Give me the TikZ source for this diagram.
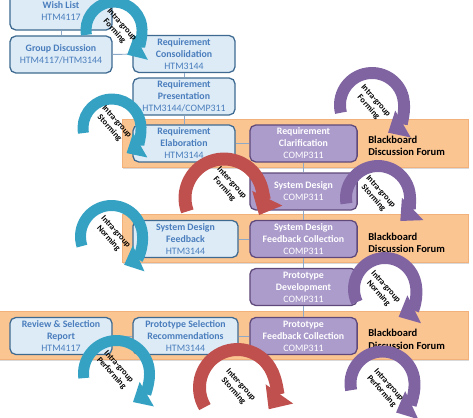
\documentclass[tikz,border=0pt]{standalone}
\usepackage{fontspec}
\setmainfont{Carlito}
\usepackage{xcolor}
\usepackage{tikz}
\usetikzlibrary{arrows.meta, shadows}

\definecolor{boxfill}{HTML}{DCEBF6}
\definecolor{boxline}{HTML}{3E6A91}
\definecolor{boxtext}{HTML}{4A7DBD}
\definecolor{unitfill}{HTML}{AC9CCC}
\definecolor{unitline}{HTML}{5F497A}
\definecolor{bandfill}{HTML}{FBC592}
\definecolor{bandline}{HTML}{F2B17A}
\definecolor{linkcol}{HTML}{8EA9C8}
\definecolor{intracol}{HTML}{35A2C4}
\definecolor{intercol}{HTML}{C0504D}
\definecolor{groupcol}{HTML}{8064A2}

\begin{document}
\begin{tikzpicture}[
    x=0.025cm, y=0.025cm,
    task/.style={rectangle, rounded corners=4pt, draw=boxline, fill=boxfill, line width=0.9pt, minimum width=2.55cm, minimum height=0.92cm, inner sep=1pt, align=center, text=boxtext, font=\fontsize{7}{8.5}\selectfont\bfseries},
    unit/.style={task, draw=unitline, fill=unitfill, text=white, minimum width=2.68cm},
    forum/.style={rectangle, draw=bandline, fill=bandfill, minimum height=1.2cm, drop shadow={shadow xshift=0.6pt, shadow yshift=-1.2pt, opacity=0.3}},
    forumtext/.style={anchor=west, align=left, inner sep=0pt, font=\fontsize{7.5}{9}\selectfont\bfseries},
    link/.style={draw=linkcol, line width=0.7pt},
    ringarrow/.style={line width=#1, -{Triangle[length=0pt 1.45, width=0pt 2.5]}},
    ringarrow/.default=8pt,
    ringlabel/.style={align=center, inner sep=0pt, rotate=-48, font=\fontsize{6}{7}\selectfont\bfseries}
]
\useasboundingbox (0,0) rectangle (473,-417);

% Bands
\node[forum, minimum width=8.65cm] (band1) at (295,-143.5) {};
\node[forum, minimum width=8.65cm] (band2) at (295,-238.5) {};
\node[forum, minimum width=11.75cm] (band3) at (233,-335) {};

\node[forumtext] (bb1) at (368,-146) {Blackboard\\Discussion Forum};
\node[forumtext] (bb2) at (368,-243) {Blackboard\\Discussion Forum};
\node[forumtext] (bb3) at (368,-339) {Blackboard\\Discussion Forum};

% Tasks
\node[task] (wish) at (61,-11.5) {Wish List\\\mdseries HTM4117};
\node[task] (group) at (61,-54.5) {Group Discussion\\\mdseries HTM4117/HTM3144};
\node[task] (consol) at (184,-54) {Requirement\\Consolidation\\\mdseries HTM3144};
\node[task] (present) at (184,-96.5) {Requirement\\Presentation\\\mdseries HTM3144/COMP311};
\node[task] (elab) at (184,-143.5) {Requirement\\Elaboration\\\mdseries HTM3144};
\node[unit] (clarif) at (303.5,-143.5) {Requirement\\Clarification\\\mdseries COMP311};
\node[unit] (sysdes) at (303.5,-191.5) {System Design\\\mdseries COMP311};
\node[task, minimum width=2.63cm] (sdfb) at (185.5,-239) {System Design\\Feedback\\\mdseries HTM3144};
\node[unit] (sdfbc) at (303.5,-239) {System Design\\Feedback Collection\\\mdseries COMP311};
\node[unit] (protodev) at (303.5,-287) {Prototype\\Development\\\mdseries COMP311};
\node[task] (review) at (61,-336) {Review \& Selection\\Report\\\mdseries HTM4117};
\node[task, minimum width=2.63cm] (protosel) at (185.5,-336) {Prototype Selection\\Recommendations\\\mdseries HTM3144};
\node[unit] (protofbc) at (303.5,-336) {Prototype\\Feedback Collection\\\mdseries COMP311};

% Links
\draw[link] (wish) -- (group);
\draw[link] (group) -- (consol);
\draw[link] (consol) -- (present);
\draw[link] (present) -- (elab);
\draw[link] (elab) -- (clarif);
\draw[link] (clarif) -- (sysdes);
\draw[link] (sysdes) -- (sdfbc);
\draw[link] (sdfb) -- (sdfbc);
\draw[link] (sdfbc) -- (protodev);
\draw[link] (protodev) -- (protofbc);
\draw[link] (review) -- (protosel);
\draw[link] (protosel) -- (protofbc);

% Intra-group cycles (HTM)
\draw[ringarrow=7.8pt, intracol] (114,-30) ++(190:28) arc[start angle=190, end angle=-62, radius=28];
\draw[ringarrow=7.8pt, intracol] (112,-128) ++(190:29) arc[start angle=190, end angle=-60, radius=29];
\draw[ringarrow=7.8pt, intracol] (111.5,-236.5) ++(198:31) arc[start angle=198, end angle=-66, radius=31];
\draw[ringarrow=7.8pt, intracol] (116.5,-373.5) ++(188:33) arc[start angle=188, end angle=-60, radius=33];

% Inter-group cycles
\draw[ringarrow=9.2pt, intercol] (224,-198) ++(200:39) arc[start angle=200, end angle=-26, radius=39];
\draw[ringarrow=9.2pt, intercol] (237.5,-387.5) ++(211:38) arc[start angle=211, end angle=-35, radius=38];

% Intra-group cycles (COMP)
\draw[ringarrow=8.5pt, groupcol] (372,-105) ++(194:32) arc[start angle=194, end angle=-60, radius=32];
\draw[ringarrow=8.5pt, groupcol] (378,-198) ++(190:32) arc[start angle=190, end angle=-46, radius=32];
\draw[ringarrow=8.5pt, groupcol] (385,-289) ++(205:31) arc[start angle=205, end angle=-64, radius=31];
\draw[ringarrow=8.5pt, groupcol] (382.5,-383.5) ++(192:32) arc[start angle=192, end angle=-65, radius=32];

% Cycle labels
\node[ringlabel] (f1) at (118,-28) {Intra-group\\Forming};
\node[ringlabel] (s1) at (113,-125) {Intra-group\\Storming};
\node[ringlabel] (n1) at (112,-235) {Intra-group\\Norming};
\node[ringlabel] (p1) at (115,-370) {Intra-group\\Performing};
\node[ringlabel] (xf) at (228,-186) {Inter-group\\Forming};
\node[ringlabel] (xs) at (237,-388) {Inter-group\\Storming};
\node[ringlabel] (gf) at (372,-104) {Intra-group\\Forming};
\node[ringlabel] (gs) at (377,-195) {Intra-group\\Storming};
\node[ringlabel] (gn) at (382,-290) {Intra-group\\Norming};
\node[ringlabel] (gp) at (385,-388) {Intra-group\\Performing};

\end{tikzpicture}
\end{document}
